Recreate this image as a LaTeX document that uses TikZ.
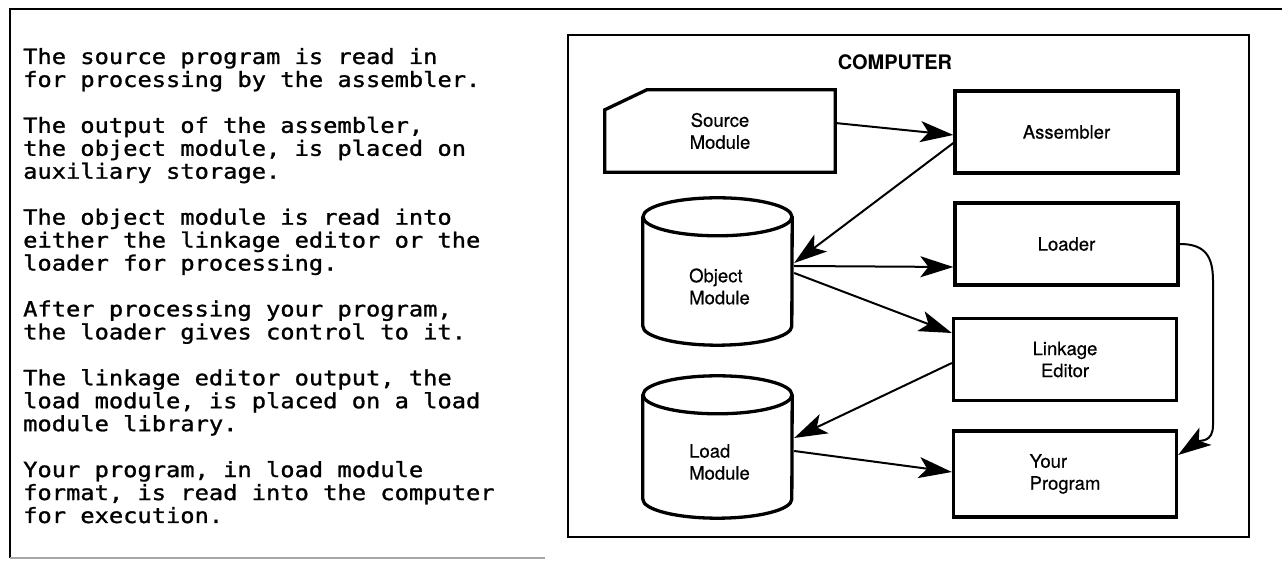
\documentclass[tikz,border=0pt]{standalone}
\usepackage{fontspec}
\setmainfont{TeX Gyre Heros}[FakeBold=0.5]
\newfontfamily\descfont[FakeStretch=1.13,FakeBold=1.2]{DejaVu Sans Mono}
\newfontfamily\titlefont{TeX Gyre Heros Bold}
\usetikzlibrary{arrows.meta}
\begin{document}
\begin{tikzpicture}[x=1pt,y=1pt,
  desc/.style={anchor=base west, inner sep=0pt, font=\descfont\fontsize{21}{23}\selectfont\frenchspacing},
  lbl/.style={inner sep=0pt, font=\fontsize{18.5}{22}\selectfont, align=center},
  lbll/.style={inner sep=0pt, font=\fontsize{18.5}{22}\selectfont, align=left},
  procbox/.style={draw, line width=3.3pt, minimum width=223pt, minimum height=82pt, inner sep=0pt,
                  font=\fontsize{18.5}{22}\selectfont, align=center},
  cylnode/.style={inner sep=0pt, minimum width=149pt},
  shapeline/.style={line width=3.3pt, line join=miter},
  conn/.style={line width=2pt, -{Stealth[length=33pt,width=21pt,inset=8pt]}},
  frame/.style={line width=2pt}
]
\useasboundingbox (0,0) rectangle (1282,561);

% outer page frame (partial, as in the scan)
\coordinate (ftl) at (10,552);
\coordinate (ftr) at (1282,552);
\coordinate (fbl) at (10,3);
\coordinate (fbr) at (545,3);
\draw[frame] (ftr) -- (ftl) -- (fbl);
\draw[line width=1.5pt, gray!70] (fbl) -- (fbr);

% description text
\foreach \n/\t in {
  0/{The source program is read in},
  1/{for processing by the assembler.},
  3/{The output of the assembler,},
  4/{the object module, is placed on},
  5/{auxiliary storage.},
  7/{The object module is read into},
  8/{either the linkage editor or the},
  9/{loader for processing.},
  11/{After processing your program,},
  12/{the loader gives control to it.},
  14/{The linkage editor output, the},
  15/{load module, is placed on a load},
  16/{module library.},
  18/{Your program, in load module},
  19/{format, is read into the computer},
  20/{for execution.}}
  \node[desc] (t\n) at (23,{497-22.95*\n}) {\t};

% computer box
\draw[frame] (568,526) rectangle (1249,24);
\node[inner sep=0pt, font=\titlefont\fontsize{20}{24}\selectfont] (comp) at (895,499) {COMPUTER};

% source module (card shape)
\node[lbl, minimum width=230pt, minimum height=82pt] (src) at (720,430) {Source\\Module};
\draw[shapeline] ([yshift=-20pt]src.north west) -- ([xshift=42pt]src.north west)
  -- (src.north east) -- (src.south east) -- (src.south west) -- cycle;

% process boxes
\node[procbox] (asm) at (1066.5,429) {Assembler};
\node[procbox] (ldr) at (1066.5,317) {Loader};
\node[procbox] (lnk) at (1065,201.5) {Linkage\\Editor};
\node[procbox, align=left, minimum height=86pt] (yp) at (1065,87) {Your\\Program};

% object module cylinder
\node[cylnode, minimum height=147pt] (obj) at (717.5,289.5) {};
\draw[shapeline] ([yshift=-19pt]obj.north) ellipse [x radius=74.5pt, y radius=19pt];
\draw[shapeline] ([yshift=-19pt]obj.north west) -- ([yshift=19pt]obj.south west)
  arc[start angle=180, end angle=360, x radius=74.5pt, y radius=19pt]
  -- ([yshift=-19pt]obj.north east);
\node[lbll] (objt) at ([xshift=2pt,yshift=-15pt]obj.center) {Object\\Module};

% load module cylinder
\node[cylnode, minimum height=142pt] (ld) at (717.5,114) {};
\draw[shapeline] ([yshift=-19pt]ld.north) ellipse [x radius=74.5pt, y radius=19pt];
\draw[shapeline] ([yshift=-19pt]ld.north west) -- ([yshift=19pt]ld.south west)
  arc[start angle=180, end angle=360, x radius=74.5pt, y radius=19pt]
  -- ([yshift=-19pt]ld.north east);
\node[lbll] (ldt) at ([xshift=2pt,yshift=-15pt]ld.center) {Load\\Module};

% connectors
\draw[conn] ([yshift=8pt]src.east) -- ([yshift=-3pt]asm.west);
\draw[conn] ([yshift=-11pt]asm.west) -- ([xshift=2pt,yshift=8.5pt]obj.east);
\draw[conn] ([xshift=2pt,yshift=5.5pt]obj.east) -- ([yshift=-23pt]ldr.west);
\draw[conn] ([xshift=2pt,yshift=-1.5pt]obj.east) -- ([yshift=26.5pt]lnk.west);
\draw[conn] ([yshift=-3.5pt]lnk.west) -- ([xshift=2pt,yshift=9pt]ld.east);
\draw[conn] ([xshift=2pt,yshift=-4pt]ld.east) -- ([yshift=2pt]yp.west);
\draw[conn] (ldr.east) .. controls (1205,317) and (1213,305) .. (1213,280)
  -- (1213,136) .. controls (1213,118) and (1200,121) .. ([yshift=19pt]yp.east);
\end{tikzpicture}
\end{document}
